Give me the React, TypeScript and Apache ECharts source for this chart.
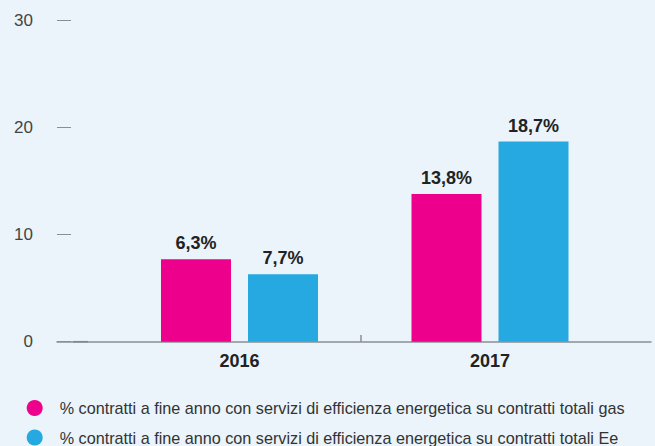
import React, { useEffect, useRef } from "react";
import * as echarts from "echarts";

const categories = ["2016", "2017"];
const seriesNames = [
  "% contratti a fine anno con servizi di efficienza energetica su contratti totali gas",
  "% contratti a fine anno con servizi di efficienza energetica su contratti totali Ee",
];
const gasValues = [7.7, 13.8];
const eeValues = [6.3, 18.7];
const gasLabels = ["6,3%", "13,8%"];
const eeLabels = ["7,7%", "18,7%"];
const yTicks = [0, 10, 20, 30];

const FONT = "'Liberation Sans', Arial, Helvetica, sans-serif";
const MAGENTA = "#EC008C";
const BLUE = "#26A9E0";
const AXIS = "#8a8f94";

export default function App() {
  const ref = useRef<HTMLDivElement>(null);
  useEffect(() => {
    if (!ref.current) return;
    const chart = echarts.init(ref.current, undefined, { renderer: "svg" });
    const gridTop = 20.7;
    const gridBottom = 104.3;
    const option: any = {
      animation: false,
      backgroundColor: "#EAF4FA",
      textStyle: { fontFamily: FONT },
      grid: [
        { left: 57, right: 4, top: gridTop, bottom: gridBottom },
        { left: 114.25, right: 39.75, top: gridTop, bottom: gridBottom },
      ],
      xAxis: [
        {
          gridIndex: 0,
          type: "value",
          min: 0,
          max: 1,
          axisLine: { show: true, lineStyle: { color: AXIS, width: 1.5 } },
          axisTick: { show: false },
          axisLabel: { show: false },
          splitLine: { show: false },
        },
        {
          gridIndex: 1,
          type: "category",
          data: categories,
          axisLine: { show: false },
          axisTick: { show: false },
          axisLabel: {
            margin: 10,
            fontSize: 18,
            fontWeight: "bold",
            color: "#222",
            fontFamily: FONT,
          },
          splitLine: { show: false },
        },
      ],
      yAxis: [
        {
          gridIndex: 0,
          type: "value",
          min: yTicks[0],
          max: yTicks[yTicks.length - 1],
          interval: 10,
          axisLine: { show: false },
          axisTick: { show: true, inside: true, length: 14, lineStyle: { color: AXIS, width: 1 } },
          axisLabel: { margin: 24, fontSize: 17, color: "#444", fontFamily: FONT },
          splitLine: { show: false },
        },
        {
          gridIndex: 1,
          type: "value",
          min: yTicks[0],
          max: yTicks[yTicks.length - 1],
          interval: 10,
          show: false,
        },
      ],
      legend: {
        orient: "vertical",
        left: 26.7,
        top: 400,
        bottom: 0,
        padding: 0,
        itemWidth: 16,
        itemHeight: 16,
        itemGap: 13.5,
        icon: "circle",
        data: seriesNames,
        textStyle: { fontSize: 16.2, color: "#333", fontFamily: FONT, padding: [0, 0, 0, 12] },
      },
      series: [
        {
          name: seriesNames[0],
          type: "bar",
          xAxisIndex: 1,
          yAxisIndex: 1,
          data: gasValues,
          barWidth: 70,
          barGap: "24.3%",
          itemStyle: { color: MAGENTA },
          label: {
            show: true,
            position: "top",
            distance: 7,
            fontSize: 18,
            fontWeight: "bold",
            color: "#222",
            fontFamily: FONT,
            formatter: (p: any) => gasLabels[p.dataIndex],
          },
        },
        {
          name: seriesNames[1],
          type: "bar",
          xAxisIndex: 1,
          yAxisIndex: 1,
          data: eeValues,
          barWidth: 70,
          barGap: "24.3%",
          itemStyle: { color: BLUE },
          label: {
            show: true,
            position: "top",
            distance: 7,
            fontSize: 18,
            fontWeight: "bold",
            color: "#222",
            fontFamily: FONT,
            formatter: (p: any) => eeLabels[p.dataIndex],
          },
        },
      ],
      graphic: [
        {
          type: "line",
          shape: { x1: 361, y1: 335, x2: 361, y2: 342 },
          style: { stroke: AXIS, lineWidth: 1.5 },
          silent: true,
        },
        {
          type: "line",
          shape: { x1: 73, y1: 341.7, x2: 88, y2: 341.7 },
          style: { stroke: "#6d7378", lineWidth: 1.5 },
          silent: true,
        },
      ],
    };
    chart.setOption(option);
    return () => chart.dispose();
  }, []);
  return (
    <div
      ref={ref}
      style={{ position: "fixed", left: 0, top: 0, width: 655, height: 446 }}
    />
  );
}
